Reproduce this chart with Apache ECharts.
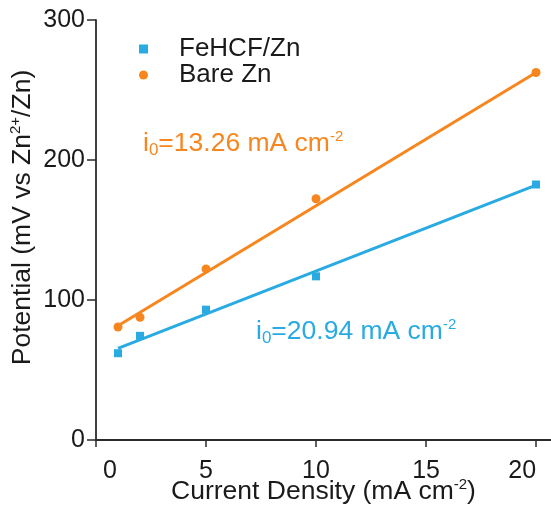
<!DOCTYPE html>
<html>
<head>
<meta charset="utf-8">
<script src="https://cdn.jsdelivr.net/npm/echarts@6/dist/echarts.min.js"></script>
<style>
  html, body { margin: 0; padding: 0; background: #fff; }
  #chart { width: 551px; height: 508px; }
</style>
</head>
<body>
<div id="chart"></div>
<script>
// Measured current densities (mA cm-2)
const currentDensity = [1, 2, 5, 10, 20];
// Overpotential readings (mV vs Zn2+/Zn)
const fehcfZn = [62, 74.4, 93.1, 116.9, 182.5];
const bareZn = [80.7, 87.6, 122.2, 172.3, 262.5];
// Linear-fit end points
const fitX = [1, 20];
const fehcfFit = [65.5, 182];
const bareFit = [81.6, 262.5];
// Axis ticks
const xTicks = [0, 5, 10, 15, 20];
const yTicks = [0, 100, 200, 300];
// Exchange current densities from the fits
const i0Bare = '13.26';
const i0Fehcf = '20.94';

const BLUE = '#29abe2';
const ORANGE = '#f7861e';
const INK = '#1a1a1a';
const FONT = '"Liberation Sans", Arial, sans-serif';

const pairs = (xs, ys) => xs.map((x, i) => [x, ys[i]]);

function i0Label(value, color) {
  return {
    text: '{m|i}{s|0}{m|=' + value + ' mA cm}{p|-2}',
    rich: {
      m: { fontSize: 26.5, lineHeight: 30, fontFamily: FONT, fill: color, color: color },
      s: { fontSize: 17, lineHeight: 16, verticalAlign: 'bottom', fontFamily: FONT, fill: color, color: color },
      p: { fontSize: 15, lineHeight: 24, verticalAlign: 'top', fontFamily: FONT, fill: color, color: color }
    }
  };
}

const chart = echarts.init(document.getElementById('chart'), null, { renderer: 'canvas' });

chart.setOption({
  animation: false,
  backgroundColor: '#ffffff',
  textStyle: { fontFamily: FONT },
  grid: { left: 96, right: 0, top: 20, bottom: 68, containLabel: false, outerBoundsMode: 'none' },
  legend: {
    orient: 'vertical',
    left: 134,
    top: 31,
    itemWidth: 9,
    itemHeight: 9,
    itemGap: 0,
    selectedMode: false,
    data: [
      { name: 'FeHCF/Zn', icon: 'rect', itemStyle: { color: BLUE, opacity: 1 } },
      { name: 'Bare Zn', icon: 'circle', itemStyle: { color: ORANGE, opacity: 1 } }
    ],
    textStyle: { fontSize: 26, color: INK, fontFamily: FONT, padding: [0, 0, 0, 26], lineHeight: 26 }
  },
  xAxis: [{
    type: 'value',
    min: 0,
    max: 20.68,
    interval: 5,
    name: '{t|Current Density (mA cm}{p|-2}{t|)}',
    nameLocation: 'middle',
    nameGap: 37,
    nameMoveOverlap: false,
    nameTextStyle: {
      rich: {
        t: { fontSize: 26.5, lineHeight: 30, color: INK, fontFamily: FONT },
        p: { fontSize: 15, lineHeight: 24, verticalAlign: 'top', color: INK, fontFamily: FONT }
      }
    },
    axisLine: { show: true, onZero: false, lineStyle: { color: '#2b2b2b', width: 1.8 } },
    axisTick: { show: true, length: 7, customValues: xTicks, lineStyle: { color: '#2b2b2b', width: 1.5 } },
    axisLabel: {
      customValues: xTicks,
      fontSize: 25,
      color: INK,
      margin: 19,
      alignMinLabel: 'left',
      alignMaxLabel: 'right',
      formatter: v => (v === 0 ? '{z|0}' : String(v)),
      rich: { z: { fontSize: 25, color: INK, padding: [0, 0, 0, 7], fontFamily: FONT } }
    },
    splitLine: { show: false }
  }, {
    type: 'value',
    position: 'top',
    min: 0,
    max: 20.68,
    axisLine: { show: true, lineStyle: { color: '#2b2b2b', width: 1.8 } },
    axisTick: { show: false },
    axisLabel: { show: false },
    splitLine: { show: false }
  }],
  yAxis: {
    type: 'value',
    min: 0,
    max: 300,
    interval: 100,
    name: '{t|Potential (mV vs Zn}{p|2+}{t|/Zn)}',
    nameLocation: 'middle',
    nameRotate: 90,
    nameGap: 58,
    nameMoveOverlap: false,
    nameTextStyle: {
      padding: [0, 0, 0, 25],
      rich: {
        t: { fontSize: 26.5, lineHeight: 30, color: INK, fontFamily: FONT },
        p: { fontSize: 15, lineHeight: 24, verticalAlign: 'top', color: INK, fontFamily: FONT }
      }
    },
    axisLine: { show: true, onZero: false, lineStyle: { color: '#2b2b2b', width: 1.8 } },
    axisTick: { show: true, length: 9, lineStyle: { color: '#2b2b2b', width: 1.5 } },
    axisLabel: { fontSize: 25, color: INK, margin: 11 },
    splitLine: { show: false }
  },
  series: [
    {
      name: 'FeHCF/Zn-fit',
      type: 'line',
      data: pairs(fitX, fehcfFit),
      showSymbol: false,
      symbol: 'none',
      lineStyle: { color: BLUE, width: 3 },
      z: 2,
      silent: true
    },
    {
      name: 'Bare Zn-fit',
      type: 'line',
      data: pairs(fitX, bareFit),
      showSymbol: false,
      symbol: 'none',
      lineStyle: { color: ORANGE, width: 3 },
      z: 2,
      silent: true
    },
    {
      name: 'FeHCF/Zn',
      type: 'scatter',
      symbol: 'rect',
      symbolSize: 8,
      itemStyle: { color: BLUE, opacity: 1 },
      data: pairs(currentDensity, fehcfZn),
      z: 3
    },
    {
      name: 'Bare Zn',
      type: 'scatter',
      symbol: 'circle',
      symbolSize: 9,
      itemStyle: { color: ORANGE, opacity: 1 },
      data: pairs(currentDensity, bareZn),
      z: 3
    }
  ],
  graphic: [
    {
      type: 'text',
      left: 143,
      top: 129,
      style: i0Label(i0Bare, ORANGE)
    },
    {
      type: 'text',
      left: 256,
      top: 317,
      style: i0Label(i0Fehcf, BLUE)
    }
  ]
});
</script>
</body>
</html>
